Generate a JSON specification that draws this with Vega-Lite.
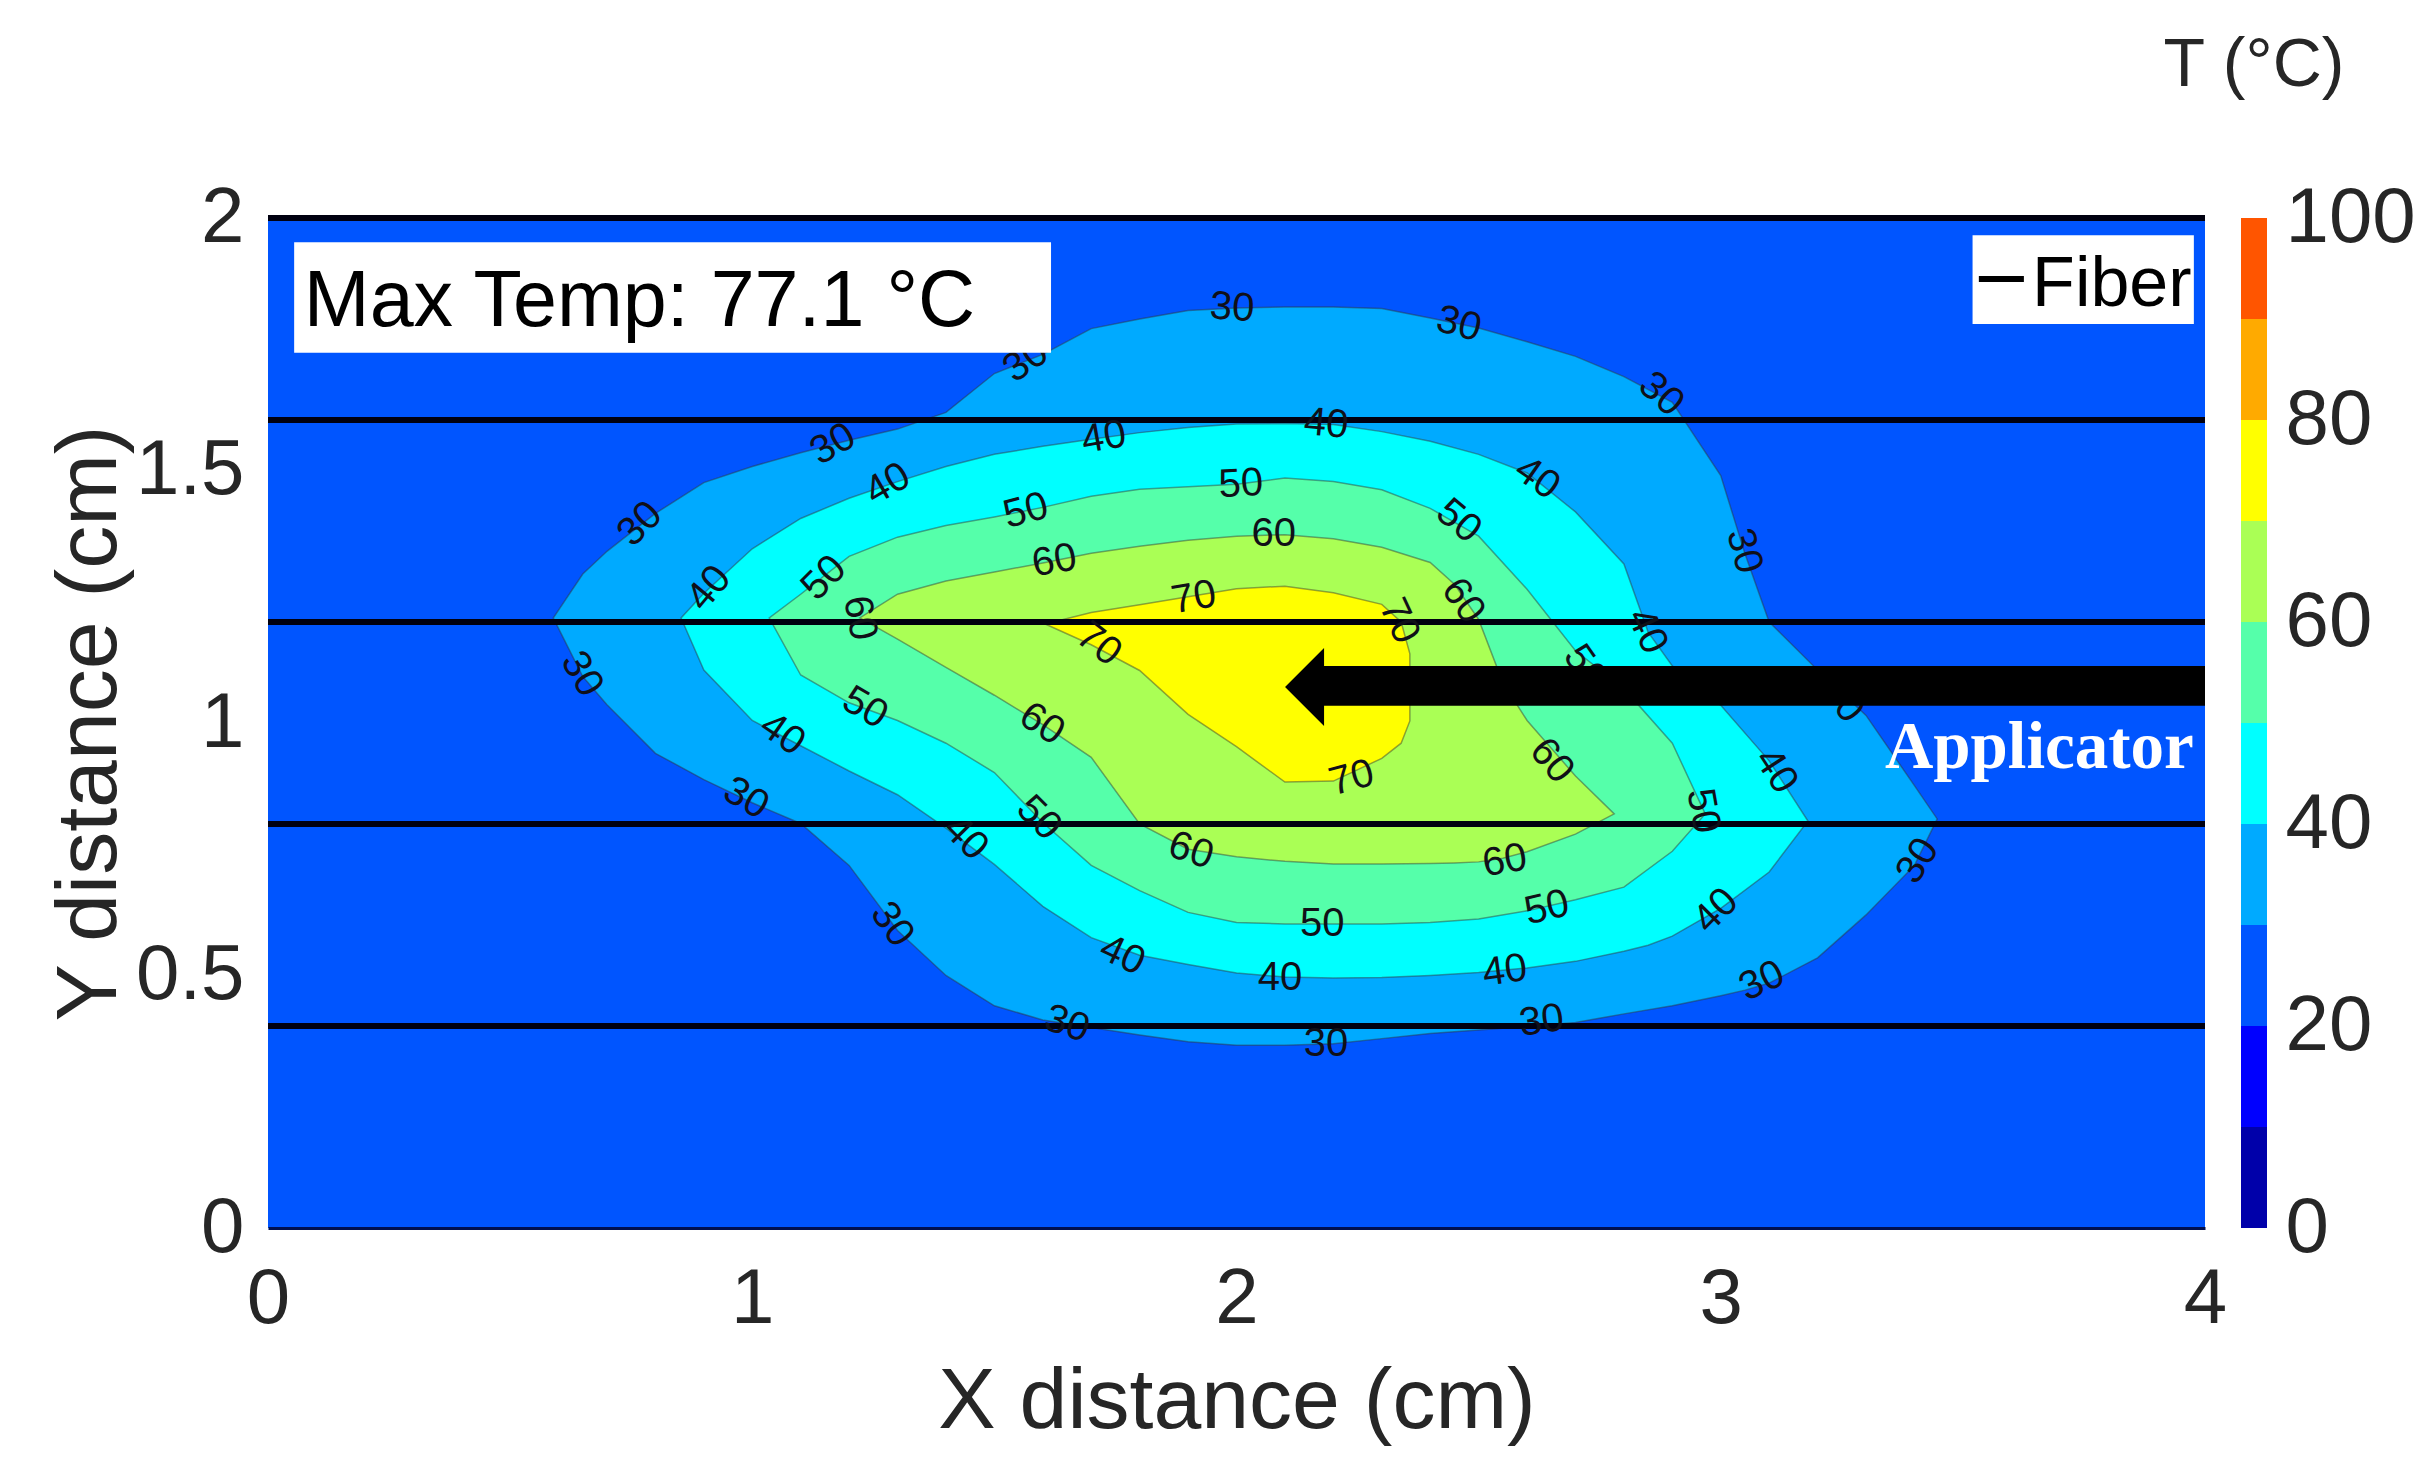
{
  "$schema": "https://vega.github.io/schema/vega-lite/v6.json",
  "background": "white",
  "padding": {"left": 46, "top": 32, "right": 5, "bottom": 5},
  "config": {"font": "Liberation Sans", "view": {"stroke": null}},
  "spacing": 36,
  "bounds": "flush",
  "datasets": {
    "contours": [
      {"level": 30, "x": 0.589, "lo": 1.208, "hi": 1.208},
      {"level": 30, "x": 0.65, "lo": 1.092, "hi": 1.295},
      {"level": 30, "x": 0.70, "lo": 1.036, "hi": 1.340},
      {"level": 30, "x": 0.80, "lo": 0.940, "hi": 1.415},
      {"level": 30, "x": 0.90, "lo": 0.888, "hi": 1.476},
      {"level": 30, "x": 1.00, "lo": 0.842, "hi": 1.508},
      {"level": 30, "x": 1.10, "lo": 0.801, "hi": 1.535},
      {"level": 30, "x": 1.20, "lo": 0.718, "hi": 1.560},
      {"level": 30, "x": 1.30, "lo": 0.589, "hi": 1.582},
      {"level": 30, "x": 1.40, "lo": 0.500, "hi": 1.615},
      {"level": 30, "x": 1.50, "lo": 0.440, "hi": 1.692},
      {"level": 30, "x": 1.60, "lo": 0.412, "hi": 1.730},
      {"level": 30, "x": 1.70, "lo": 0.397, "hi": 1.781},
      {"level": 30, "x": 1.80, "lo": 0.382, "hi": 1.800},
      {"level": 30, "x": 1.90, "lo": 0.369, "hi": 1.817},
      {"level": 30, "x": 2.00, "lo": 0.362, "hi": 1.822},
      {"level": 30, "x": 2.10, "lo": 0.362, "hi": 1.824},
      {"level": 30, "x": 2.20, "lo": 0.365, "hi": 1.824},
      {"level": 30, "x": 2.30, "lo": 0.375, "hi": 1.821},
      {"level": 30, "x": 2.40, "lo": 0.385, "hi": 1.802},
      {"level": 30, "x": 2.50, "lo": 0.392, "hi": 1.782},
      {"level": 30, "x": 2.60, "lo": 0.399, "hi": 1.755},
      {"level": 30, "x": 2.70, "lo": 0.407, "hi": 1.726},
      {"level": 30, "x": 2.80, "lo": 0.424, "hi": 1.686},
      {"level": 30, "x": 2.90, "lo": 0.440, "hi": 1.635},
      {"level": 30, "x": 3.00, "lo": 0.460, "hi": 1.490},
      {"level": 30, "x": 3.05, "lo": 0.471, "hi": 1.335},
      {"level": 30, "x": 3.10, "lo": 0.485, "hi": 1.200},
      {"level": 30, "x": 3.20, "lo": 0.535, "hi": 1.105},
      {"level": 30, "x": 3.30, "lo": 0.620, "hi": 1.015},
      {"level": 30, "x": 3.40, "lo": 0.718, "hi": 0.876},
      {"level": 30, "x": 3.447, "lo": 0.810, "hi": 0.810},
      {"level": 40, "x": 0.853, "lo": 1.208, "hi": 1.208},
      {"level": 40, "x": 0.90, "lo": 1.105, "hi": 1.257},
      {"level": 40, "x": 1.00, "lo": 1.005, "hi": 1.345},
      {"level": 40, "x": 1.10, "lo": 0.955, "hi": 1.405},
      {"level": 40, "x": 1.20, "lo": 0.905, "hi": 1.445},
      {"level": 40, "x": 1.30, "lo": 0.858, "hi": 1.478},
      {"level": 40, "x": 1.40, "lo": 0.792, "hi": 1.508},
      {"level": 40, "x": 1.50, "lo": 0.720, "hi": 1.532},
      {"level": 40, "x": 1.60, "lo": 0.637, "hi": 1.548},
      {"level": 40, "x": 1.70, "lo": 0.575, "hi": 1.562},
      {"level": 40, "x": 1.80, "lo": 0.540, "hi": 1.575},
      {"level": 40, "x": 1.90, "lo": 0.522, "hi": 1.585},
      {"level": 40, "x": 2.00, "lo": 0.505, "hi": 1.592},
      {"level": 40, "x": 2.10, "lo": 0.497, "hi": 1.593},
      {"level": 40, "x": 2.20, "lo": 0.495, "hi": 1.591},
      {"level": 40, "x": 2.30, "lo": 0.496, "hi": 1.577},
      {"level": 40, "x": 2.40, "lo": 0.500, "hi": 1.558},
      {"level": 40, "x": 2.50, "lo": 0.506, "hi": 1.532},
      {"level": 40, "x": 2.60, "lo": 0.515, "hi": 1.495},
      {"level": 40, "x": 2.70, "lo": 0.528, "hi": 1.418},
      {"level": 40, "x": 2.80, "lo": 0.548, "hi": 1.315},
      {"level": 40, "x": 2.85, "lo": 0.560, "hi": 1.180},
      {"level": 40, "x": 2.90, "lo": 0.578, "hi": 1.113},
      {"level": 40, "x": 3.00, "lo": 0.633, "hi": 1.035},
      {"level": 40, "x": 3.10, "lo": 0.705, "hi": 0.925},
      {"level": 40, "x": 3.18, "lo": 0.806, "hi": 0.806},
      {"level": 50, "x": 1.035, "lo": 1.208, "hi": 1.208},
      {"level": 50, "x": 1.10, "lo": 1.095, "hi": 1.255},
      {"level": 50, "x": 1.20, "lo": 1.040, "hi": 1.330},
      {"level": 50, "x": 1.30, "lo": 1.005, "hi": 1.368},
      {"level": 50, "x": 1.40, "lo": 0.960, "hi": 1.391},
      {"level": 50, "x": 1.50, "lo": 0.902, "hi": 1.408},
      {"level": 50, "x": 1.60, "lo": 0.803, "hi": 1.427},
      {"level": 50, "x": 1.70, "lo": 0.718, "hi": 1.449},
      {"level": 50, "x": 1.80, "lo": 0.668, "hi": 1.463},
      {"level": 50, "x": 1.90, "lo": 0.625, "hi": 1.468},
      {"level": 50, "x": 2.00, "lo": 0.605, "hi": 1.473},
      {"level": 50, "x": 2.10, "lo": 0.602, "hi": 1.485},
      {"level": 50, "x": 2.20, "lo": 0.602, "hi": 1.478},
      {"level": 50, "x": 2.30, "lo": 0.602, "hi": 1.462},
      {"level": 50, "x": 2.40, "lo": 0.605, "hi": 1.425},
      {"level": 50, "x": 2.50, "lo": 0.612, "hi": 1.370},
      {"level": 50, "x": 2.60, "lo": 0.628, "hi": 1.265},
      {"level": 50, "x": 2.70, "lo": 0.650, "hi": 1.143},
      {"level": 50, "x": 2.80, "lo": 0.675, "hi": 1.068},
      {"level": 50, "x": 2.90, "lo": 0.746, "hi": 0.960},
      {"level": 50, "x": 2.968, "lo": 0.820, "hi": 0.820},
      {"level": 60, "x": 1.222, "lo": 1.208, "hi": 1.208},
      {"level": 60, "x": 1.30, "lo": 1.166, "hi": 1.255},
      {"level": 60, "x": 1.40, "lo": 1.110, "hi": 1.281},
      {"level": 60, "x": 1.50, "lo": 1.055, "hi": 1.299},
      {"level": 60, "x": 1.60, "lo": 0.997, "hi": 1.317},
      {"level": 60, "x": 1.70, "lo": 0.932, "hi": 1.336},
      {"level": 60, "x": 1.80, "lo": 0.800, "hi": 1.350},
      {"level": 60, "x": 1.90, "lo": 0.750, "hi": 1.362},
      {"level": 60, "x": 2.00, "lo": 0.735, "hi": 1.370},
      {"level": 60, "x": 2.10, "lo": 0.726, "hi": 1.373},
      {"level": 60, "x": 2.20, "lo": 0.721, "hi": 1.365},
      {"level": 60, "x": 2.30, "lo": 0.721, "hi": 1.348},
      {"level": 60, "x": 2.40, "lo": 0.722, "hi": 1.318},
      {"level": 60, "x": 2.45, "lo": 0.723, "hi": 1.275},
      {"level": 60, "x": 2.50, "lo": 0.725, "hi": 1.205},
      {"level": 60, "x": 2.55, "lo": 0.732, "hi": 1.080},
      {"level": 60, "x": 2.60, "lo": 0.745, "hi": 1.005},
      {"level": 60, "x": 2.70, "lo": 0.780, "hi": 0.895},
      {"level": 60, "x": 2.78, "lo": 0.820, "hi": 0.820},
      {"level": 70, "x": 1.605, "lo": 1.196, "hi": 1.196},
      {"level": 70, "x": 1.70, "lo": 1.155, "hi": 1.219},
      {"level": 70, "x": 1.80, "lo": 1.104, "hi": 1.234},
      {"level": 70, "x": 1.90, "lo": 1.017, "hi": 1.250},
      {"level": 70, "x": 2.00, "lo": 0.953, "hi": 1.266},
      {"level": 70, "x": 2.10, "lo": 0.883, "hi": 1.271},
      {"level": 70, "x": 2.20, "lo": 0.885, "hi": 1.258},
      {"level": 70, "x": 2.30, "lo": 0.930, "hi": 1.235},
      {"level": 70, "x": 2.34, "lo": 0.960, "hi": 1.200},
      {"level": 70, "x": 2.358, "lo": 1.004, "hi": 1.137}
    ],
    "labels": [
      {"x": 0.768, "y": 1.394, "t": "30", "a": -45},
      {"x": 1.167, "y": 1.552, "t": "30", "a": -30},
      {"x": 1.565, "y": 1.717, "t": "30", "a": -35},
      {"x": 1.991, "y": 1.822, "t": "30", "a": 4},
      {"x": 2.459, "y": 1.790, "t": "30", "a": 15},
      {"x": 2.877, "y": 1.651, "t": "30", "a": 42},
      {"x": 3.048, "y": 1.341, "t": "30", "a": 75},
      {"x": 3.25, "y": 1.045, "t": "30", "a": 50},
      {"x": 3.407, "y": 0.727, "t": "30", "a": -58},
      {"x": 3.085, "y": 0.489, "t": "30", "a": -25},
      {"x": 2.63, "y": 0.41, "t": "30", "a": -8},
      {"x": 2.185, "y": 0.364, "t": "30", "a": 0},
      {"x": 1.650, "y": 0.404, "t": "30", "a": 18},
      {"x": 1.289, "y": 0.601, "t": "30", "a": 55},
      {"x": 0.987, "y": 0.851, "t": "30", "a": 30},
      {"x": 0.648, "y": 1.097, "t": "30", "a": 60},
      {"x": 0.911, "y": 1.267, "t": "40", "a": -50},
      {"x": 1.280, "y": 1.473, "t": "40", "a": -30},
      {"x": 1.726, "y": 1.565, "t": "40", "a": -10},
      {"x": 2.185, "y": 1.592, "t": "40", "a": 5},
      {"x": 2.621, "y": 1.485, "t": "40", "a": 35},
      {"x": 2.848, "y": 1.182, "t": "40", "a": 65},
      {"x": 3.114, "y": 0.905, "t": "40", "a": 57},
      {"x": 2.990, "y": 0.628, "t": "40", "a": -45},
      {"x": 2.554, "y": 0.509, "t": "40", "a": -8},
      {"x": 2.090, "y": 0.495, "t": "40", "a": 0},
      {"x": 1.764, "y": 0.540, "t": "40", "a": 25},
      {"x": 1.441, "y": 0.772, "t": "40", "a": 45},
      {"x": 1.062, "y": 0.978, "t": "40", "a": 35},
      {"x": 1.148, "y": 1.287, "t": "50", "a": -45},
      {"x": 1.565, "y": 1.420, "t": "50", "a": -15},
      {"x": 2.009, "y": 1.473, "t": "50", "a": -3},
      {"x": 2.459, "y": 1.400, "t": "50", "a": 40},
      {"x": 2.72, "y": 1.11, "t": "50", "a": 55},
      {"x": 2.963, "y": 0.826, "t": "50", "a": 80},
      {"x": 2.641, "y": 0.634, "t": "50", "a": -13},
      {"x": 2.177, "y": 0.602, "t": "50", "a": 0},
      {"x": 1.592, "y": 0.812, "t": "50", "a": 45},
      {"x": 1.233, "y": 1.030, "t": "50", "a": 30},
      {"x": 1.222, "y": 1.208, "t": "60", "a": 80},
      {"x": 1.624, "y": 1.321, "t": "60", "a": -10},
      {"x": 2.077, "y": 1.374, "t": "60", "a": 0},
      {"x": 2.468, "y": 1.242, "t": "60", "a": 55},
      {"x": 2.651, "y": 0.925, "t": "60", "a": 50},
      {"x": 2.554, "y": 0.727, "t": "60", "a": -10},
      {"x": 1.906, "y": 0.747, "t": "60", "a": 18},
      {"x": 1.598, "y": 0.998, "t": "60", "a": 33},
      {"x": 1.912, "y": 1.248, "t": "70", "a": -10},
      {"x": 2.336, "y": 1.202, "t": "70", "a": 65},
      {"x": 2.238, "y": 0.891, "t": "70", "a": -15},
      {"x": 1.716, "y": 1.156, "t": "70", "a": 38}
    ],
    "fibers": [{"y": 0.4}, {"y": 0.8}, {"y": 1.2}, {"y": 1.6}, {"y": 2.0}],
    "bands": [
      {"band": "0-10", "lo": 0, "hi": 10},
      {"band": "10-20", "lo": 10, "hi": 20},
      {"band": "20-30", "lo": 20, "hi": 30},
      {"band": "30-40", "lo": 30, "hi": 40},
      {"band": "40-50", "lo": 40, "hi": 50},
      {"band": "50-60", "lo": 50, "hi": 60},
      {"band": "60-70", "lo": 60, "hi": 70},
      {"band": "70-80", "lo": 70, "hi": 80},
      {"band": "80-90", "lo": 80, "hi": 90},
      {"band": "90-100", "lo": 90, "hi": 100}
    ]
  },
  "hconcat": [
    {
      "width": 1937,
      "height": 1010,
      "view": {"fill": "#0055FF", "stroke": null},
      "layer": [
        {
          "data": {"name": "contours"},
          "transform": [{"filter": "datum.level == 30"}],
          "mark": {"type": "area", "fill": "#00AAFF", "stroke": "#303030", "strokeWidth": 1.5, "strokeOpacity": 0.45},
          "encoding": {
            "x": {"field": "x", "type": "quantitative", "title": "X distance (cm)",
              "scale": {"domain": [0, 4], "nice": false, "zero": false},
              "axis": {"values": [0, 1, 2, 3, 4], "format": "~g", "labelFontSize": 78, "labelColor": "#262626", "labelPadding": 32, "labelFlush": false, "ticks": false, "tickSize": 0, "domain": true, "domainColor": "#001050", "domainWidth": 3, "grid": false, "titleFontSize": 86, "titleFontWeight": "normal", "titleColor": "#262626", "titlePadding": 21}},
            "y": {"field": "lo", "type": "quantitative", "title": "Y distance (cm)", "stack": null,
              "scale": {"domain": [0, 2], "nice": false, "zero": false},
              "axis": {"values": [0, 0.5, 1, 1.5, 2], "format": "~g", "labelFontSize": 78, "labelColor": "#262626", "labelPadding": 24, "labelFlush": false, "ticks": false, "tickSize": 0, "domain": false, "grid": false, "titleFontSize": 86, "titleFontWeight": "normal", "titleColor": "#262626", "titlePadding": 2}},
            "y2": {"field": "hi"}
          }
        },
        {
          "data": {"name": "contours"},
          "transform": [{"filter": "datum.level == 40"}],
          "mark": {"type": "area", "fill": "#00FFFF", "stroke": "#303030", "strokeWidth": 1.5, "strokeOpacity": 0.45},
          "encoding": {
            "x": {"field": "x", "type": "quantitative", "title": "X distance (cm)"},
            "y": {"field": "lo", "type": "quantitative", "title": "Y distance (cm)", "stack": null},
            "y2": {"field": "hi"}
          }
        },
        {
          "data": {"name": "contours"},
          "transform": [{"filter": "datum.level == 50"}],
          "mark": {"type": "area", "fill": "#55FFAA", "stroke": "#303030", "strokeWidth": 1.5, "strokeOpacity": 0.45},
          "encoding": {
            "x": {"field": "x", "type": "quantitative", "title": "X distance (cm)"},
            "y": {"field": "lo", "type": "quantitative", "title": "Y distance (cm)", "stack": null},
            "y2": {"field": "hi"}
          }
        },
        {
          "data": {"name": "contours"},
          "transform": [{"filter": "datum.level == 60"}],
          "mark": {"type": "area", "fill": "#AAFF55", "stroke": "#303030", "strokeWidth": 1.5, "strokeOpacity": 0.45},
          "encoding": {
            "x": {"field": "x", "type": "quantitative", "title": "X distance (cm)"},
            "y": {"field": "lo", "type": "quantitative", "title": "Y distance (cm)", "stack": null},
            "y2": {"field": "hi"}
          }
        },
        {
          "data": {"name": "contours"},
          "transform": [{"filter": "datum.level == 70"}],
          "mark": {"type": "area", "fill": "#FFFF00", "stroke": "#303030", "strokeWidth": 1.5, "strokeOpacity": 0.45},
          "encoding": {
            "x": {"field": "x", "type": "quantitative", "title": "X distance (cm)"},
            "y": {"field": "lo", "type": "quantitative", "title": "Y distance (cm)", "stack": null},
            "y2": {"field": "hi"}
          }
        },
        {
          "data": {"name": "fibers"},
          "mark": {"type": "rule", "color": "#000010", "strokeWidth": 6},
          "encoding": {
            "y": {"field": "y", "type": "quantitative", "title": "Y distance (cm)"}
          }
        },
        {
          "data": {"name": "labels"},
          "mark": {"type": "text", "fontSize": 40, "color": "#101018", "align": "center", "baseline": "middle"},
          "encoding": {
            "x": {"field": "x", "type": "quantitative", "title": "X distance (cm)"},
            "y": {"field": "y", "type": "quantitative", "title": "Y distance (cm)"},
            "text": {"field": "t"},
            "angle": {"field": "a", "type": "quantitative", "scale": null}
          }
        },
        {
          "data": {"values": [{}]},
          "mark": {"type": "rect", "fill": "white"},
          "encoding": {
            "x": {"datum": 0.054}, "x2": {"datum": 1.617},
            "y": {"datum": 1.733}, "y2": {"datum": 1.952}
          }
        },
        {
          "data": {"values": [{}]},
          "mark": {"type": "text", "text": "Max Temp: 77.1 °C", "fontSize": 79, "color": "#000000", "align": "left", "baseline": "alphabetic"},
          "encoding": {"x": {"datum": 0.074}, "y": {"datum": 1.786}}
        },
        {
          "data": {"values": [{}]},
          "mark": {"type": "rect", "fill": "white"},
          "encoding": {
            "x": {"datum": 3.52}, "x2": {"datum": 3.977},
            "y": {"datum": 1.790}, "y2": {"datum": 1.966}
          }
        },
        {
          "data": {"values": [{}]},
          "mark": {"type": "rule", "color": "#000000", "strokeWidth": 6},
          "encoding": {"x": {"datum": 3.533}, "x2": {"datum": 3.626}, "y": {"datum": 1.879}}
        },
        {
          "data": {"values": [{}]},
          "mark": {"type": "text", "text": "Fiber", "fontSize": 70, "color": "#000000", "align": "left", "baseline": "alphabetic"},
          "encoding": {"x": {"datum": 3.643}, "y": {"datum": 1.826}}
        },
        {
          "data": {"values": [{}]},
          "mark": {"type": "rect", "fill": "#000000"},
          "encoding": {
            "x": {"datum": 2.178}, "x2": {"datum": 4},
            "y": {"datum": 1.034}, "y2": {"datum": 1.113}
          }
        },
        {
          "data": {"values": [{}]},
          "mark": {"type": "point", "shape": "M 0.5 -1 L -0.5 0 L 0.5 1 Z", "size": 6084, "filled": true, "fill": "#000000", "strokeWidth": 0, "opacity": 1},
          "encoding": {"x": {"datum": 2.1405}, "y": {"datum": 1.0713}}
        },
        {
          "data": {"values": [{}]},
          "mark": {"type": "text", "text": "Applicator", "font": "Liberation Serif", "fontWeight": "bold", "fontSize": 67, "color": "#FFFFFF", "align": "right", "baseline": "alphabetic"},
          "encoding": {"x": {"datum": 3.977}, "y": {"datum": 0.911}}
        }
      ]
    },
    {
      "width": 26,
      "height": 1010,
      "title": {"text": "T (°C)", "fontSize": 68, "fontWeight": "normal", "color": "#262626", "anchor": "middle", "frame": "group", "baseline": "alphabetic", "offset": 25, "font": "Liberation Sans"},
      "data": {"name": "bands"},
      "mark": {"type": "rect"},
      "encoding": {
        "y": {"field": "lo", "type": "quantitative",
          "scale": {"domain": [0, 100], "nice": false, "zero": false},
          "axis": {"orient": "right", "values": [0, 20, 40, 60, 80, 100], "labelFontSize": 78, "labelColor": "#262626", "labelPadding": 18, "labelFlush": false, "ticks": false, "tickSize": 0, "domain": false, "grid": false, "title": null}},
        "y2": {"field": "hi"},
        "color": {"field": "band", "type": "nominal", "legend": null,
          "scale": {"domain": ["0-10", "10-20", "20-30", "30-40", "40-50", "50-60", "60-70", "70-80", "80-90", "90-100"],
            "range": ["#0000AA", "#0000FF", "#0055FF", "#00AAFF", "#00FFFF", "#55FFAA", "#AAFF55", "#FFFF00", "#FFAA00", "#FF5500"]}}
      }
    }
  ]
}
